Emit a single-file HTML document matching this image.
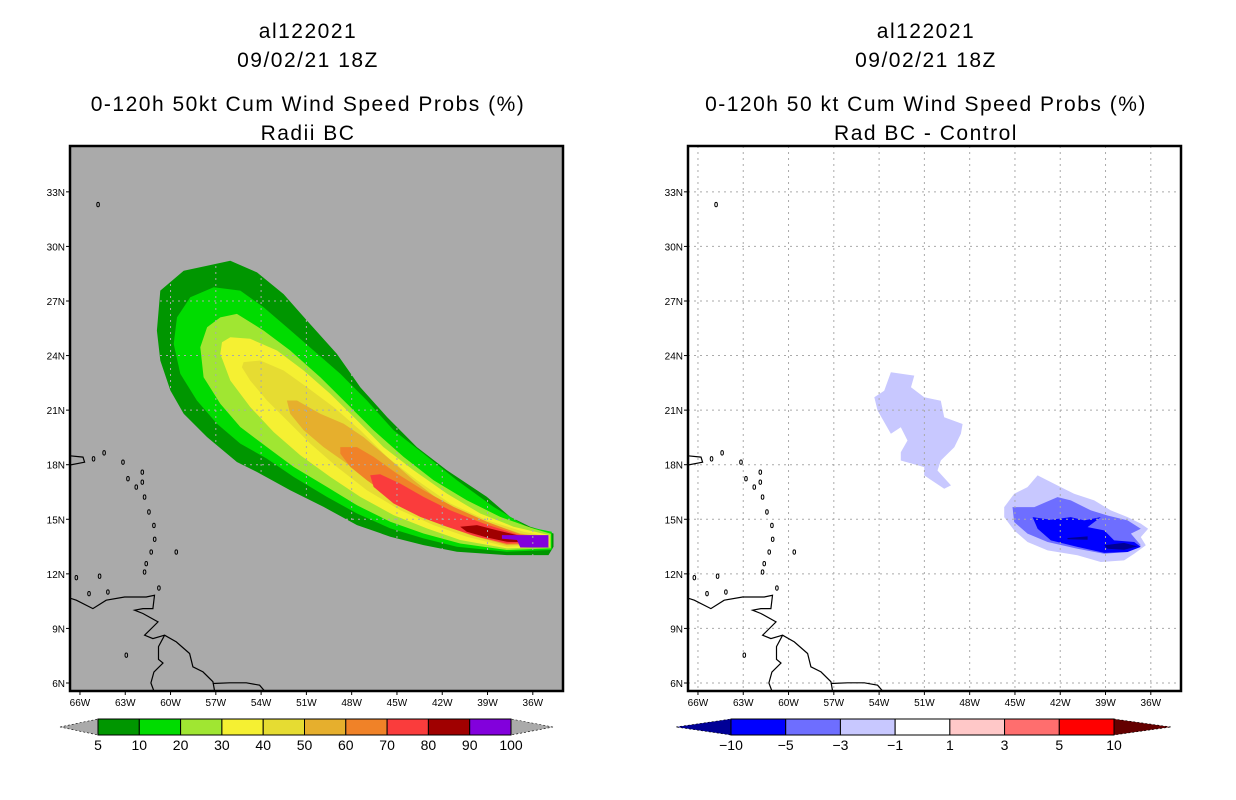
<!DOCTYPE html>
<html><head><meta charset="utf-8">
<style>
html,body{margin:0;padding:0;background:#fff;}
svg{display:block;}
text{font-family:"Liberation Sans",sans-serif;fill:#000;}
.ttl{font-size:21px;letter-spacing:1.5px;text-anchor:middle;}
.tk{font-size:10px;}
.cb{font-size:14px;text-anchor:middle;}
</style></head>
<body>
<svg id="chart" width="1236" height="800" viewBox="0 0 1236 800" xmlns="http://www.w3.org/2000/svg">
<g>
<text class="ttl" x="308" y="38">al122021</text>
<text class="ttl" x="308" y="67">09/02/21 18Z</text>
<text class="ttl" x="308" y="111">0-120h 50kt Cum Wind Speed Probs (%)</text>
<text class="ttl" x="308" y="140">Radii BC</text>
</g>
<g>
<text class="ttl" x="926" y="38">al122021</text>
<text class="ttl" x="926" y="67">09/02/21 18Z</text>
<text class="ttl" x="926" y="111">0-120h 50 kt Cum Wind Speed Probs (%)</text>
<text class="ttl" x="926" y="140">Rad BC - Control</text>
</g>
<g id="left"></g>
<g id="right"></g>
</svg>
<script>
// ---------- data ----------
const lonTicks = [-66,-63,-60,-57,-54,-51,-48,-45,-42,-39,-36];
const latTicks = [6,9,12,15,18,21,24,27,30,33];
const probLevels = [5,10,20,30,40,50,60,70,80,90,100];
const probColors = ['#009600','#00dc00','#a0e632','#f5f032','#e6dc32','#e6af2d','#f08228','#fa3c3c','#a00000','#8200dc'];
const diffLevels = [-10,-5,-3,-1,1,3,5,10];
const diffColors = ['#0000ff','#6e6eff','#c8c8ff','#ffffff','#ffc8c8','#ff6e6e','#ff0000'];

const prob5 = [[-56.04,29.21],[-54.27,28.57],[-52.51,27.38],[-50.96,25.92],[-48.98,24.09],[-47.43,22.26],[-45.66,20.62],[-43.68,18.97],[-41.69,17.69],[-39.04,16.23],[-37.5,15.13],[-36.17,14.59],[-34.63,14.22],[-34.63,13.49],[-34.96,13.03],[-37.72,13.03],[-41.03,13.22],[-43.24,13.58],[-45.44,14.04],[-47.65,14.68],[-49.86,15.68],[-52.07,16.6],[-54.27,17.6],[-55.6,18.15],[-57.58,19.52],[-59.13,20.8],[-60.01,22.08],[-60.68,23.73],[-60.9,25.37],[-60.68,27.57],[-59.13,28.66],[-57.58,28.94]];
const prob10 = [[-57.14,27.75],[-55.38,27.57],[-53.83,26.65],[-52.29,25.56],[-50.52,24.28],[-48.75,23.0],[-46.99,21.53],[-45.22,19.89],[-43.24,18.61],[-41.03,17.15],[-38.6,15.68],[-36.39,14.59],[-34.74,14.31],[-34.74,13.31],[-37.72,13.22],[-41.03,13.49],[-43.24,13.95],[-45.44,14.5],[-47.65,15.32],[-49.64,16.23],[-51.85,17.33],[-53.61,18.33],[-55.38,19.16],[-56.92,20.25],[-58.25,21.53],[-59.35,23.0],[-59.79,24.64],[-59.57,26.1],[-58.69,27.2]];
const prob20 = [[-55.6,26.29],[-53.83,25.37],[-52.07,24.28],[-50.08,22.81],[-48.31,21.35],[-46.55,19.89],[-44.56,18.43],[-42.57,17.15],[-40.37,16.05],[-38.16,15.13],[-35.95,14.49],[-34.8,14.2],[-34.8,13.4],[-37.72,13.31],[-40.81,13.67],[-43.24,14.22],[-45.44,14.86],[-47.65,15.77],[-49.64,16.78],[-51.85,17.88],[-53.61,18.97],[-55.38,20.07],[-56.7,21.35],[-57.81,22.81],[-58.03,24.46],[-57.58,25.56],[-56.7,26.1]];
const prob30 = [[-56.04,25.01],[-54.72,24.92],[-52.95,24.28],[-51.18,23.18],[-49.42,21.9],[-47.65,20.44],[-45.89,18.97],[-43.9,17.69],[-41.69,16.41],[-39.48,15.32],[-37.28,14.59],[-34.89,14.13],[-34.89,13.49],[-37.72,13.4],[-40.81,13.86],[-43.02,14.5],[-45.22,15.23],[-47.43,16.23],[-49.42,17.33],[-51.4,18.52],[-53.17,19.8],[-54.72,21.17],[-56.04,22.63],[-56.7,24.09],[-56.59,24.73]];
const prob40 = [[-55.16,23.64],[-54.05,23.73],[-52.51,23.18],[-50.96,22.26],[-49.2,21.17],[-47.43,19.89],[-45.66,18.43],[-43.68,17.15],[-41.47,15.87],[-39.04,14.95],[-36.61,14.31],[-34.96,14.04],[-34.96,13.58],[-37.72,13.49],[-40.37,14.04],[-42.57,14.68],[-44.78,15.5],[-46.99,16.6],[-48.98,17.88],[-50.74,19.16],[-52.29,20.44],[-53.61,21.53],[-54.72,22.63],[-55.27,23.36]];
const prob50 = [[-52.29,21.53],[-51.62,21.53],[-50.08,20.8],[-48.53,20.25],[-47.21,19.52],[-45.66,18.43],[-43.9,17.15],[-41.91,15.87],[-39.48,14.95],[-36.83,14.22],[-35.02,14.0],[-35.02,13.63],[-37.72,13.58],[-40.15,14.13],[-42.13,14.77],[-44.34,15.68],[-46.55,16.96],[-48.31,18.06],[-49.86,18.97],[-51.18,19.89],[-52.07,20.8]];
const prob60 = [[-48.75,18.97],[-47.65,18.97],[-46.55,18.43],[-45.0,17.51],[-43.24,16.6],[-41.25,15.68],[-39.04,14.86],[-36.83,14.18],[-35.07,13.95],[-35.07,13.67],[-37.72,13.63],[-39.92,14.13],[-41.91,14.77],[-43.68,15.5],[-45.44,16.23],[-46.99,17.15],[-48.09,17.88],[-48.75,18.61]];
const prob70 = [[-46.77,17.42],[-46.11,17.47],[-44.78,16.96],[-43.24,16.23],[-41.47,15.5],[-39.26,14.77],[-37.05,14.17],[-35.11,13.91],[-35.11,13.71],[-37.72,13.67],[-39.7,14.04],[-41.69,14.59],[-43.46,15.13],[-45.22,15.87],[-46.55,16.78]];
const prob80 = [[-40.81,14.59],[-39.7,14.68],[-38.38,14.4],[-37.05,14.13],[-35.18,13.89],[-35.18,13.73],[-37.72,13.76],[-39.04,14.0],[-40.37,14.31]];
const prob90 = [[-38.05,14.13],[-34.96,14.13],[-34.96,13.45],[-36.83,13.45],[-37.05,13.86],[-38.05,13.93]];
const probContours = [prob5,prob10,prob20,prob30,prob40,prob50,prob60,prob70,prob80,prob90];

const diffNW = [[-53.22,23.08],[-51.67,22.9],[-51.89,22.26],[-51.01,21.71],[-49.91,21.52],[-49.69,20.61],[-48.47,20.24],[-48.58,19.7],[-49.02,18.96],[-49.91,18.23],[-50.13,17.68],[-49.24,16.86],[-49.69,16.68],[-51.01,17.41],[-51.01,17.87],[-52.56,18.23],[-52.56,18.69],[-52.12,19.33],[-52.56,20.06],[-53.22,19.7],[-54.1,20.98],[-54.32,21.71],[-53.66,22.07]];
const diffSE1 = [[-43.5,17.41],[-41.96,16.77],[-41.08,16.4],[-39.75,16.04],[-38.65,15.49],[-37.54,15.12],[-36.66,14.76],[-36.18,14.48],[-36.66,14.02],[-36.33,13.57],[-37.1,13.11],[-37.77,12.74],[-39.31,12.65],[-40.86,13.02],[-42.84,13.29],[-44.17,13.75],[-45.05,14.39],[-45.71,15.12],[-45.71,15.67],[-45.05,16.4],[-44.17,16.77]];
const diffSE3 = [[-45.16,15.67],[-43.72,15.67],[-42.18,16.22],[-41.3,16.04],[-39.97,15.49],[-38.87,15.21],[-37.54,14.94],[-36.66,14.48],[-37.32,14.21],[-36.66,13.57],[-37.54,13.2],[-39.09,13.11],[-40.86,13.38],[-42.84,13.75],[-44.17,14.21],[-45.05,14.85]];
const diffSE5 = [[-43.83,15.12],[-42.62,14.97],[-41.3,15.12],[-40.41,14.94],[-39.31,15.12],[-40.19,14.57],[-39.09,14.39],[-38.43,13.84],[-37.1,13.75],[-36.66,13.48],[-37.54,13.2],[-39.09,13.15],[-40.86,13.48],[-42.62,13.84],[-43.5,14.48]];
const diffSE10a = [[-39.09,13.57],[-37.77,13.7],[-36.89,13.51],[-37.77,13.33],[-38.87,13.38]];
const diffSE10b = [[-41.52,13.97],[-40.19,14.06],[-40.19,13.88],[-41.52,13.9]];
const diffShapes = [[diffNW,'#c8c8ff'],[diffSE1,'#c8c8ff'],[diffSE3,'#6e6eff'],[diffSE5,'#0000ff'],[diffSE10a,'#000096'],[diffSE10b,'#000096']];

const coastMain = [[-66.8,10.6],[-66.57,10.64],[-66.24,10.55],[-65.14,10.09],[-64.26,10.55],[-63.04,10.73],[-61.61,10.73],[-61.06,10.82],[-61.17,10.09],[-61.83,10.09],[-62.38,10.0],[-61.83,9.82],[-60.83,9.36],[-61.17,9.08],[-61.72,8.63],[-61.17,8.44],[-60.39,8.63],[-59.62,8.26],[-58.74,7.62],[-58.52,6.89],[-57.85,6.61],[-57.19,6.07],[-57.08,5.56]];
const coastGuiana = [[-57.19,5.97],[-56.09,6.01],[-54.98,6.01],[-54.1,5.88],[-53.77,5.56]];
const coastInland = [[-60.39,8.63],[-60.8,8.0],[-60.8,7.3],[-60.5,7.1],[-61.1,6.6],[-61.3,6.0],[-61.1,5.56]];
const coastPR = [[-66.8,18.5],[-65.8,18.42],[-65.69,18.14],[-66.8,17.96]];
const islands = [[-65.1,18.32],[-64.4,18.65],[-63.15,18.14],[-62.82,17.23],[-62.27,16.77],[-61.87,17.59],[-61.87,17.04],[-61.72,16.22],[-61.43,15.4],[-61.1,14.66],[-61.05,13.9],[-61.28,13.2],[-61.61,12.56],[-61.72,12.1],[-59.62,13.2],[-64.7,11.87],[-66.24,11.79],[-65.4,10.91],[-64.15,11.0],[-60.77,11.22],[-62.93,7.53],[-64.8,32.3]];

// ---------- geometry ----------
const NS='http://www.w3.org/2000/svg';
const FT=146, FB=691, FW=493;
const lonMin=-66.66, lonMax=-34.0, latMin=5.56, latMax=35.52;
function mk(tag, attrs, parent){const e=document.createElementNS(NS,tag);for(const k in attrs)e.setAttribute(k,attrs[k]);parent.appendChild(e);return e;}
function xS(x0){return lon=>x0+(lon-lonMin)/(lonMax-lonMin)*FW;}
function yS(lat){return FB-(lat-latMin)/(latMax-latMin)*(FB-FT);}
function pathOf(pts,xs,closed){return pts.map((p,i)=>(i?'L':'M')+xs(p[0]).toFixed(1)+' '+yS(p[1]).toFixed(1)).join(' ')+(closed?' Z':'');}

function panel(g,x0,bg,gridColor,shapes,isLeft){
  const xs=xS(x0);
  const clipId='clip'+x0;
  const defs=mk('defs',{},g);
  const cp=mk('clipPath',{id:clipId},defs);
  mk('rect',{x:x0,y:FT,width:FW,height:FB-FT},cp);
  const bgR=mk('rect',{x:x0,y:FT,width:FW,height:FB-FT,fill:bg},g);
  
  
  const inner=mk('g',{'clip-path':'url(#'+clipId+')'},g);
  shapes.forEach((s,i)=>{
    const p=mk('path',{d:pathOf(s[0],xs,true),fill:s[1]},inner);
    
    
  });
  lonTicks.forEach(l=>{const ln=mk('line',{x1:xs(l),x2:xs(l),y1:FT,y2:FB,stroke:gridColor,'stroke-width':1,'stroke-dasharray':'2,4'},inner);
    
    });
  latTicks.forEach(l=>{const ln=mk('line',{x1:x0,x2:x0+FW,y1:yS(l),y2:yS(l),stroke:gridColor,'stroke-width':1,'stroke-dasharray':'2,4'},inner);
    
    });
  [coastMain,coastGuiana,coastInland].forEach(c=>{const p=mk('path',{d:pathOf(c,xs,false),fill:'none',stroke:'#000','stroke-width':1.2},inner);
    
    });
  const pr=mk('path',{d:pathOf(coastPR,xs,false),fill:'none',stroke:'#000','stroke-width':1.2},inner);
  
  
  islands.forEach(c=>{const e=mk('ellipse',{cx:xs(c[0]),cy:yS(c[1]),rx:1.3,ry:2.2,fill:'none',stroke:'#000','stroke-width':1},inner);
    
    });
  const fr=mk('rect',{x:x0,y:FT,width:FW,height:FB-FT,fill:'none',stroke:'#000','stroke-width':2.5},g);
  
  
  lonTicks.forEach(l=>{
    mk('line',{x1:xs(l),x2:xs(l),y1:FB,y2:FB+4,stroke:'#000'},g);
    const t=mk('text',{x:xs(l),y:FB+15,class:'tk','text-anchor':'middle'},g);
    t.textContent=Math.abs(l)+'W';
    
    
  });
  latTicks.forEach(l=>{
    mk('line',{x1:x0-4,x2:x0,y1:yS(l),y2:yS(l),stroke:'#000'},g);
    const t=mk('text',{x:x0-5,y:yS(l)+4,class:'tk','text-anchor':'end'},g);
    t.textContent=l+'N';
    
    
  });
}

function colorbar(g,xL,xR,x0,x1,colors,labels,lowCol,highCol,name){
  const cb=mk('g',{},g);
  
  
  const y0=719,y1=735,ym=727;
  const w=(x1-x0)/colors.length;
  mk('polygon',{points:`${xL},${ym} ${x0},${y0} ${x0},${y1}`,fill:lowCol,stroke:'#000','stroke-width':0.6,'stroke-dasharray':'2,2'},cb);
  mk('polygon',{points:`${xR},${ym} ${x1},${y0} ${x1},${y1}`,fill:highCol,stroke:'#000','stroke-width':0.6,'stroke-dasharray':'2,2'},cb);
  colors.forEach((c,i)=>{
    const r=mk('rect',{x:x0+i*w,y:y0,width:w,height:y1-y0,fill:c,stroke:'#000','stroke-width':1},cb);
    
    
  });
  labels.forEach((l,i)=>{
    const t=mk('text',{x:x0+i*w,y:750,class:'cb'},cb);
    t.textContent=l<0?'\u2212'+Math.abs(l):l;
    
    
  });
}

const L=document.getElementById('left'), R=document.getElementById('right');
panel(L,70,'#aaaaaa','#aaaaaa',probContours.map((c,i)=>[c,probColors[i]]),true);
panel(R,688,'#ffffff','#aaaaaa',diffShapes,false);
colorbar(L,60,553,98,511,probColors,probLevels,'#aaaaaa','#aaaaaa','prob-colorbar');
colorbar(R,676,1171,731,1114,diffColors,diffLevels,'#000096','#640000','diff-colorbar');
</script>
</body></html>
